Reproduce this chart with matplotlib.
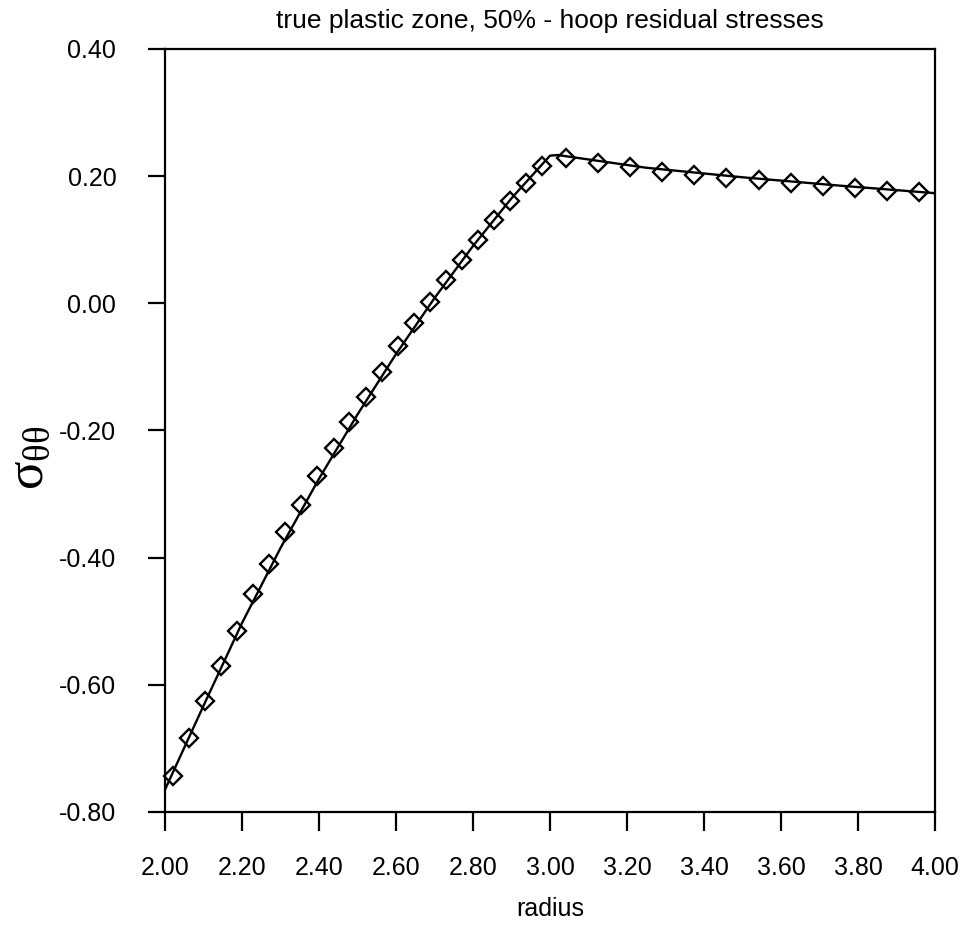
import matplotlib
matplotlib.use("Agg")
import matplotlib.pyplot as plt
from matplotlib.ticker import FixedLocator, FormatStrFormatter

plt.rcParams['font.family'] = ['Liberation Sans', 'DejaVu Sans']
plt.rcParams['axes.unicode_minus'] = False
plt.rcParams['mathtext.fontset'] = 'custom'
plt.rcParams['mathtext.rm'] = 'Liberation Serif'
plt.rcParams['mathtext.it'] = 'Liberation Serif'

# FE results (markers)
r_fe = [2.021, 2.063, 2.104, 2.146, 2.188, 2.229, 2.271, 2.313, 2.354, 2.396,
        2.438, 2.479, 2.521, 2.563, 2.604, 2.646, 2.688, 2.729, 2.771, 2.813,
        2.854, 2.896, 2.938, 2.979,
        3.042, 3.125, 3.208, 3.292, 3.375, 3.458, 3.542, 3.625, 3.708, 3.792,
        3.875, 3.958]
s_fe = [-0.743, -0.684, -0.626, -0.570, -0.515, -0.458, -0.410, -0.360, -0.317, -0.272,
        -0.228, -0.186, -0.147, -0.108, -0.068, -0.031, 0.002, 0.036, 0.068, 0.100,
        0.131, 0.161, 0.189, 0.215,
        0.228, 0.220, 0.214, 0.206, 0.202, 0.197, 0.193, 0.189, 0.184, 0.181,
        0.177, 0.175]

# analytical solution (line)
r_an = [2.00, 2.10, 2.20, 2.30, 2.40, 2.50, 2.60, 2.70, 2.80, 2.90, 3.00, 3.02,
        3.25, 3.50, 3.75, 4.00]
s_an = [-0.765, -0.633, -0.503, -0.385, -0.276, -0.175, -0.080, 0.008, 0.090, 0.165, 0.232, 0.233,
        0.213, 0.198, 0.185, 0.173]

x_ticks = [2.0, 2.2, 2.4, 2.6, 2.8, 3.0, 3.2, 3.4, 3.6, 3.8, 4.0]
y_ticks = [-0.8, -0.6, -0.4, -0.2, 0.0, 0.2, 0.4]

title = "true plastic zone, 50% - hoop residual stresses"
xlabel = "radius"
ylabel = r"$\sigma_{\theta\theta}$"

fig = plt.figure(figsize=(9.75, 9.3), dpi=100)
ax = fig.add_axes([0.1692, 0.1269, 0.959 - 0.1692, 0.9475 - 0.1269])

ax.plot(r_an, s_an, color='black', lw=1.7, zorder=2)
ax.plot(r_fe, s_fe, linestyle='none', marker='D', markersize=9.5,
        markerfacecolor='none', markeredgecolor='black', markeredgewidth=1.7,
        zorder=3, clip_on=False)

ax.set_xlim(2.0, 4.0)
ax.set_ylim(-0.8, 0.4)
ax.xaxis.set_major_locator(FixedLocator(x_ticks))
ax.yaxis.set_major_locator(FixedLocator(y_ticks))
ax.xaxis.set_major_formatter(FormatStrFormatter('%.2f'))
ax.yaxis.set_major_formatter(FormatStrFormatter('%.2f'))

ax.tick_params(axis='x', direction='out', length=14, width=1.6, pad=18,
               labelsize=18, top=False)
ax.tick_params(axis='y', direction='out', length=12, width=1.6, pad=23,
               labelsize=18, right=False)
for sp in ax.spines.values():
    sp.set_linewidth(1.6)
    sp.set_color('black')

ax.set_title(title, fontsize=19, pad=15)
ax.set_xlabel(xlabel, fontsize=18, labelpad=12)
fig.text(29 / 975, 1 - 458 / 930, ylabel, rotation=90, ha='center', va='center',
         fontsize=38)

fig.savefig("out.png", dpi=100, facecolor='white')
